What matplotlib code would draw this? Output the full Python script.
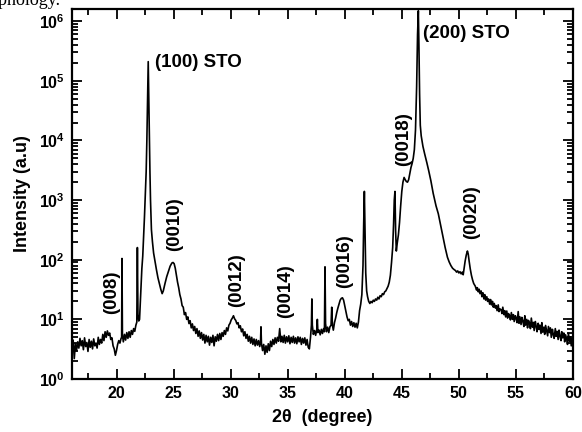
import numpy as np
import matplotlib
matplotlib.use("Agg")
import matplotlib.pyplot as plt
from matplotlib.ticker import MultipleLocator, LogLocator, NullFormatter

plt.rcParams['font.family'] = ['Liberation Sans', 'DejaVu Sans']
plt.rcParams['font.weight'] = 'bold'
plt.rcParams['mathtext.fontset'] = 'custom'
plt.rcParams['mathtext.rm'] = 'Liberation Sans:bold'
plt.rcParams['mathtext.bf'] = 'Liberation Sans:bold'

# 2theta (deg) and intensity (a.u.), in pieces
two_theta_a = [16.1, 16.2, 16.3, 16.4, 16.5, 16.6, 16.7, 16.8, 16.9, 17.0, 17.1, 17.2, 17.3, 17.4, 17.5,
               17.6, 17.7, 17.8, 17.9, 18.0, 18.1, 18.2, 18.3, 18.4, 18.5, 18.6, 18.7, 18.8, 18.9, 19.0,
               19.1, 19.2, 19.3, 19.4, 19.5, 19.6, 19.7, 19.8, 19.9]
counts_a = [3.2, 4.5, 2.2, 3.9, 3.0, 4.2, 3.3, 4.8, 3.6, 4.4, 3.1, 4.9, 3.5, 4.1, 2.9,
            4.6, 3.4, 4.3, 3.2, 4.7, 3.6, 4.0, 3.3, 5.0, 3.8, 4.6, 4.0, 5.6, 4.4, 6.2,
            5.0, 6.4, 5.4, 5.9, 4.6, 4.9, 3.6, 3.2, 2.5]

two_theta_b = [20.0, 20.1, 20.2, 20.3, 20.4, 20.45, 20.48, 20.52, 20.6, 20.7, 20.8, 20.9, 21.0, 21.1,
               21.2, 21.3, 21.4, 21.5, 21.6, 21.7, 21.78, 21.83, 21.88, 21.95, 22.02, 22.08, 22.15,
               22.22, 22.3, 22.38, 22.45, 22.52, 22.6, 22.66, 22.72, 22.78, 22.83, 22.88, 22.93,
               22.98, 23.06, 23.15, 23.25, 23.35, 23.5, 23.63, 23.75, 23.88, 24.0, 24.1, 24.25,
               24.4, 24.55, 24.7, 24.85, 24.95, 25.05, 25.15, 25.25, 25.35, 25.45, 25.55, 25.65,
               25.75, 25.85, 25.95, 26.05, 26.15, 26.25, 26.35, 26.45, 26.55, 26.65, 26.75, 26.85,
               26.95, 27.05, 27.15, 27.25, 27.35, 27.45, 27.55, 27.65, 27.75, 27.85, 27.95, 28.05,
               28.15, 28.25, 28.35, 28.45, 28.55, 28.65, 28.75, 28.85, 28.95, 29.05, 29.15, 29.25,
               29.35, 29.45, 29.55, 29.65, 29.75, 29.85, 29.95]
counts_b = [3.0, 3.8, 4.4, 4.0, 4.8, 5.0, 105, 5.5, 4.2, 5.6, 4.5, 6.0, 4.8, 6.2,
            5.0, 6.5, 5.6, 7.0, 6.3, 8.0, 9.0, 160, 12, 9.4, 10, 18, 38,
            70, 115, 250, 520, 1200, 3000, 1.0e4, 4.5e4, 2.1e5, 5.0e4, 1.2e4, 3000,
            1000, 320, 200, 130, 100, 68, 50, 40, 32, 27, 30, 40,
            52, 64, 78, 88, 90, 86, 72, 55, 42, 34, 26, 22,
            17, 16, 12, 13, 10, 11, 8.5, 9.5, 7.2, 8.4, 6.5, 7.6,
            5.8, 7.0, 5.2, 6.4, 4.8, 6.0, 4.5, 5.6, 4.0, 5.4, 4.2, 5.2,
            3.7, 5.0, 4.1, 5.4, 3.6, 5.1, 4.3, 5.6, 4.4, 5.8, 4.6, 6.0,
            5.2, 6.5, 5.6, 7.2, 6.4, 8.0, 8.6]

two_theta_c = [30.05, 30.15, 30.25, 30.35, 30.45, 30.55, 30.65, 30.75, 30.85, 30.95, 31.05, 31.15,
               31.25, 31.35, 31.45, 31.55, 31.65, 31.75, 31.85, 31.95, 32.05, 32.15, 32.25, 32.35,
               32.45, 32.55, 32.62, 32.66, 32.7, 32.8, 32.9, 33.0, 33.1, 33.2, 33.3, 33.4, 33.5,
               33.6, 33.7, 33.8, 33.9, 34.0, 34.1, 34.2, 34.3, 34.4, 34.5, 34.6, 34.7, 34.8, 34.9,
               35.0, 35.1, 35.2, 35.3, 35.4, 35.5, 35.6, 35.7, 35.8, 35.9, 36.0, 36.1, 36.2, 36.3,
               36.4, 36.5, 36.6, 36.7, 36.8, 36.9, 37.0, 37.08, 37.12, 37.16, 37.25, 37.35, 37.45,
               37.55, 37.6, 37.65, 37.75, 37.85, 37.95, 38.05, 38.15, 38.22, 38.27, 38.32, 38.4,
               38.5, 38.6, 38.7, 38.8, 38.86, 38.92, 39.0, 39.1, 39.2, 39.3, 39.4, 39.5, 39.6,
               39.7, 39.8, 39.9, 40.0, 40.1, 40.2, 40.3, 40.4, 40.5, 40.6, 40.7, 40.8, 40.9, 41.0,
               41.1, 41.2, 41.3, 41.4, 41.5, 41.6, 41.66, 41.72, 41.78, 41.84, 41.92]
counts_c = [9.8, 10.5, 11.5, 10.2, 9.6, 8.4, 8.8, 7.2, 7.8, 6.2, 6.9, 5.3,
            6.2, 4.8, 5.6, 4.3, 5.2, 4.0, 5.0, 3.8, 4.7, 3.6, 4.6, 3.7,
            4.4, 3.5, 4.2, 7.5, 4.0, 3.0, 3.8, 2.6, 3.6, 2.8, 3.9, 3.0, 4.3,
            3.5, 4.6, 3.8, 4.9, 4.0, 5.0, 4.3, 7.0, 4.2, 5.2, 4.1, 5.4, 4.0, 5.1,
            4.2, 5.3, 3.9, 5.0, 4.1, 5.2, 4.0, 4.9, 3.9, 5.1, 4.2, 5.0, 3.8, 4.8,
            4.0, 4.9, 3.7, 4.6, 3.4, 3.2, 5.0, 8.0, 22, 8.0, 5.6, 6.5, 5.4,
            6.8, 10, 6.0, 6.6, 5.5, 6.8, 5.8, 7.0, 6.2, 76, 8.5, 6.2,
            7.4, 6.0, 7.5, 8.0, 16, 8.0, 6.6, 8.8, 10.5, 13, 15.5, 18, 21,
            22.5, 23, 21, 17, 13.5, 11, 9.5, 10, 8.0, 9.2, 7.6, 8.8, 7.4, 8.6,
            7.2, 9.0, 14, 18, 26, 80, 400, 1400, 300, 60, 30]

two_theta_d = [42.0, 42.1, 42.2, 42.3, 42.4, 42.5, 42.6, 42.7, 42.8, 42.9, 43.0, 43.1, 43.2, 43.3,
               43.4, 43.5, 43.6, 43.7, 43.8, 43.9, 44.0, 44.1, 44.2, 44.28, 44.34, 44.4, 44.46,
               44.52, 44.6, 44.7, 44.8, 44.9, 45.0, 45.1, 45.2, 45.3, 45.4, 45.5, 45.6, 45.7,
               45.8, 45.9, 46.0, 46.1, 46.2, 46.3, 46.38, 46.45, 46.5, 46.56, 46.62, 46.7, 46.85,
               47.0, 47.2, 47.36, 47.55, 47.75, 48.0, 48.2, 48.4, 48.6, 48.8, 49.0, 49.15, 49.3,
               49.45, 49.6, 49.7, 49.8, 49.9, 50.0, 50.1, 50.2, 50.3, 50.38, 50.45, 50.55, 50.65,
               50.75, 50.82, 50.9, 51.0, 51.1, 51.2, 51.3, 51.44]
counts_d = [24, 20, 18.5, 20, 19, 21, 20, 22, 21, 23.5, 22, 25, 24, 27,
            26, 29, 30, 33, 36, 42, 55, 90, 160, 400, 1000, 1400, 300,
            140, 190, 260, 420, 800, 1400, 2000, 2400, 2200, 2050, 2000, 2200, 2800,
            3500, 4100, 5000, 7000, 1.5e4, 8.0e4, 6.0e5, 1.5e6, 4.0e5, 6.0e4, 1.8e4, 1.2e4, 8000,
            6000, 4200, 3100, 2100, 1300, 800, 590, 380, 240, 160, 110, 92, 80,
            72, 68, 66, 62, 65, 60, 63, 58, 62, 56, 70, 95, 120,
            140, 125, 95, 70, 55, 46, 40, 36]

two_theta_e = [51.55, 51.62, 51.7, 51.78, 51.85, 51.95, 52.02, 52.1, 52.2, 52.27, 52.35, 52.45, 52.52,
               52.6, 52.7, 52.78, 52.85, 52.95, 53.02, 53.1, 53.2, 53.27, 53.35, 53.45, 53.52, 53.6,
               53.7, 53.78, 53.85, 53.95, 54.02, 54.1, 54.2, 54.27, 54.35, 54.45, 54.52, 54.6, 54.7,
               54.78, 54.85, 54.95, 55.02, 55.1, 55.2, 55.27, 55.35, 55.45, 55.52, 55.6, 55.7, 55.78,
               55.85, 55.95, 56.02, 56.1, 56.2, 56.27, 56.35, 56.45, 56.52, 56.6, 56.7, 56.78, 56.85,
               56.95, 57.02, 57.1, 57.2, 57.27, 57.35, 57.45, 57.52, 57.6, 57.7, 57.78, 57.85, 57.95,
               58.02, 58.1, 58.2, 58.27, 58.35, 58.45, 58.52, 58.6, 58.7, 58.78, 58.85, 58.95, 59.02,
               59.1, 59.2, 59.27, 59.35, 59.45, 59.52, 59.6, 59.7, 59.78, 59.85, 59.95, 60.0]
counts_e = [31, 34, 29, 32, 27, 30, 24, 28, 22, 26, 21, 24, 20,
            22, 18, 21.5, 17.5, 20, 16, 18.5, 15.5, 17, 14, 17.5, 13.5, 15,
            14.5, 12.5, 16, 12, 14, 11, 13.8, 10.5, 12.5, 11.5, 9.8, 13, 10,
            12, 9.2, 11.5, 10.5, 8.8, 13.5, 8.6, 11, 8.2, 10.8, 9.5, 7.6, 11.5,
            8.0, 10, 7.2, 9.6, 8.5, 7.0, 10.5, 7.4, 8.9, 6.5, 9.2, 7.6, 6.2,
            8.6, 6.8, 8.0, 5.8, 8.8, 6.1, 7.4, 5.6, 7.9, 6.4, 5.3, 7.6, 6.0,
            7.2, 5.0, 6.8, 5.6, 4.8, 7.0, 5.2, 6.3, 4.6, 6.6, 5.4, 4.4, 6.2,
            4.9, 5.9, 4.2, 5.5, 4.7, 3.8, 5.8, 4.3, 5.1, 3.6, 4.8, 4.2]

two_theta = np.concatenate([two_theta_a, two_theta_b, two_theta_c, two_theta_d, two_theta_e])
counts = np.concatenate([counts_a, counts_b, counts_c, counts_d, counts_e])

# peak labels: (text, 2theta, intensity, rotation)
peak_labels = ['(100) STO', '(200) STO', '(008)', '(0010)', '(0012)', '(0014)', '(0016)', '(0018)', '(0020)']
label_theta = [23.4, 46.85, 19.55, 25.1, 30.55, 34.8, 40.0, 45.2, 51.1]
label_counts = [2.0e5, 6.3e5, 29, 400, 46, 30, 96, 1.05e4, 640]
label_rot = [0, 0, 90, 90, 90, 90, 90, 90, 90]

fig = plt.figure(figsize=(5.82, 4.32), dpi=100)
ax = fig.add_axes([0.1237, 0.1227, 0.8608, 0.8563])

ax.plot(two_theta, counts, color='black', linewidth=1.2)

ax.set_yscale('log')
ax.set_xlim(16.1, 60)
ax.set_ylim(1, 1.6e6)

for txt, tx, ty, rot in zip(peak_labels, label_theta, label_counts, label_rot):
    if rot == 0:
        ax.text(tx, ty, txt, fontsize=13.5, fontweight='bold', ha='left', va='center')
    else:
        ax.text(tx, ty, txt, fontsize=13.5, fontweight='bold', ha='center', va='center', rotation=90)

ax.xaxis.set_major_locator(MultipleLocator(5))
ax.xaxis.set_minor_locator(MultipleLocator(2.5))
ax.yaxis.set_minor_locator(LogLocator(base=10, subs=np.arange(2, 10), numticks=20))
ax.yaxis.set_minor_formatter(NullFormatter())
yt = [1, 10, 100, 1e3, 1e4, 1e5, 1e6]
ax.set_yticks(yt)
ax.set_yticklabels([r'$\mathbf{10^{%d}}$' % i for i in range(7)])

ax.tick_params(which='both', direction='in', top=True, right=True, width=1.3, labelsize=11.5)
ax.tick_params(which='major', length=7, pad=5)
ax.tick_params(which='minor', length=4)
for lab in ax.get_xticklabels():
    lab.set_fontweight('bold')
for s in ax.spines.values():
    s.set_linewidth(1.6)

ax.set_xlabel('2θ  (degree)', fontsize=13, fontweight='bold', labelpad=6)
ax.set_ylabel('Intensity (a.u)', fontsize=13, fontweight='bold', labelpad=6)

# caption text from the page above the figure, cut at the top edge as in the scan
fig.text(-0.012, 0.988, 'rphology.', family='Liberation Serif', fontsize=13, fontweight='normal',
         ha='left', va='baseline')

fig.savefig('out.png', dpi=100)
